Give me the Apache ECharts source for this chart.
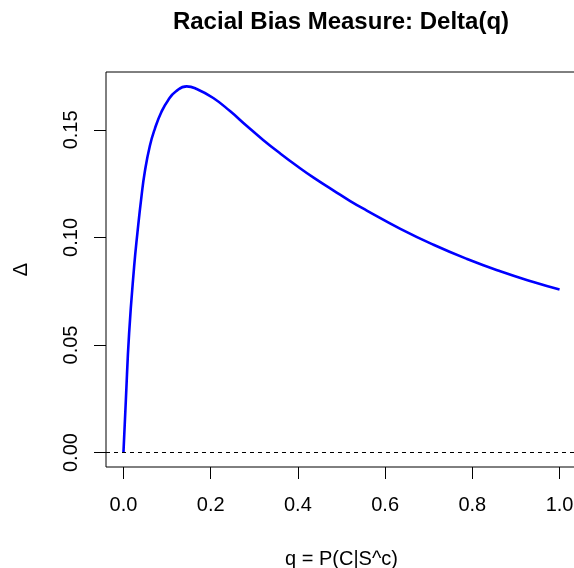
<!DOCTYPE html>
<html>
<head>
<meta charset="utf-8">
<script src="https://cdn.jsdelivr.net/npm/echarts@6/dist/echarts.min.js"></script>
<style>html,body{margin:0;padding:0;background:#fff;}#chart{width:574px;height:568px;}</style>
</head>
<body>
<div id="chart"></div>
<script>
// Data
var qValues = [0, 0.0055, 0.013, 0.0245, 0.032, 0.0413, 0.049, 0.0605, 0.072, 0.087, 0.1025, 0.120, 0.145, 0.168, 0.206, 0.245, 0.283, 0.321, 0.359, 0.398, 0.436, 0.482, 0.520, 0.558, 0.635, 0.711, 0.788, 0.864, 0.940, 1.0];
var deltaValues = [0, 0.0243, 0.0554, 0.0864, 0.102, 0.119, 0.1305, 0.1425, 0.1505, 0.1583, 0.1638, 0.1678, 0.1702, 0.169, 0.1648, 0.1586, 0.1518, 0.1452, 0.1391, 0.1332, 0.1278, 0.1218, 0.1169, 0.1125, 0.1040, 0.0966, 0.0900, 0.0843, 0.0793, 0.0758];
var xTicks = [0, 0.2, 0.4, 0.6, 0.8, 1.0];
var xTickLabels = ['0.0', '0.2', '0.4', '0.6', '0.8', '1.0'];
var yTicks = [0, 0.05, 0.10, 0.15];
var yTickLabels = ['0.00', '0.05', '0.10', '0.15'];
var titleText = 'Racial Bias Measure: Delta(q)';
var xName = 'q = P(C|S^c)';
var yName = '\u0394';

var FONT = "'Liberation Sans', Arial, Helvetica, sans-serif";
var seriesData = qValues.map(function (q, i) { return [q, deltaValues[i]]; });

function labelFor(ticks, labels) {
  return function (v) {
    for (var i = 0; i < ticks.length; i++) {
      if (Math.abs(ticks[i] - v) < 1e-9) return labels[i];
    }
    return '';
  };
}

var chart = echarts.init(document.getElementById('chart'), null, {renderer: 'canvas'});
chart.setOption({
  animation: false,
  backgroundColor: '#ffffff',
  textStyle: {fontFamily: FONT},
  graphic: [{
    type: 'text',
    x: 341,
    y: 22,
    style: {
      text: titleText,
      fill: '#000',
      font: 'bold 24px ' + FONT,
      textAlign: 'center',
      textVerticalAlign: 'middle'
    }
  }],
  grid: {
    left: 106,
    top: 72,
    right: -3,
    bottom: 101,
    show: true,
    borderColor: '#000',
    borderWidth: 1,
    backgroundColor: 'transparent',
    containLabel: false,
    outerBoundsMode: 'none'
  },
  xAxis: {
    type: 'value',
    min: -0.04,
    max: 1.04,
    name: xName,
    nameLocation: 'middle',
    nameGap: 82,
    nameTextStyle: {color: '#000', fontSize: 20, fontFamily: FONT},
    axisLine: {show: false, onZero: false},
    splitLine: {show: false},
    axisTick: {show: true, inside: false, length: 12, customValues: xTicks, lineStyle: {color: '#000', width: 1}},
    axisLabel: {show: true, customValues: xTicks, margin: 28, color: '#000', fontSize: 20, fontFamily: FONT,
      formatter: labelFor(xTicks, xTickLabels)}
  },
  yAxis: {
    type: 'value',
    min: -0.0067,
    max: 0.1769,
    name: yName,
    nameLocation: 'middle',
    nameGap: 75,
    nameRotate: 90,
    nameTextStyle: {color: '#000', fontSize: 20, fontFamily: FONT},
    axisLine: {show: false, onZero: false},
    splitLine: {show: false},
    axisTick: {show: true, inside: false, length: 12, customValues: yTicks, lineStyle: {color: '#000', width: 1}},
    axisLabel: {show: true, customValues: yTicks, rotate: 90, margin: 25, color: '#000', fontSize: 20, fontFamily: FONT,
      formatter: labelFor(yTicks, yTickLabels)}
  },
  series: [{
    type: 'line',
    data: seriesData,
    showSymbol: false,
    smooth: 0.5,
    clip: true,
    lineStyle: {color: '#0000ff', width: 2.6},
    markLine: {
      silent: true,
      symbol: ['none', 'none'],
      label: {show: false},
      lineStyle: {color: '#000', type: [4, 4], width: 1},
      data: [{yAxis: 0}]
    }
  }]
});
</script>
</body>
</html>
